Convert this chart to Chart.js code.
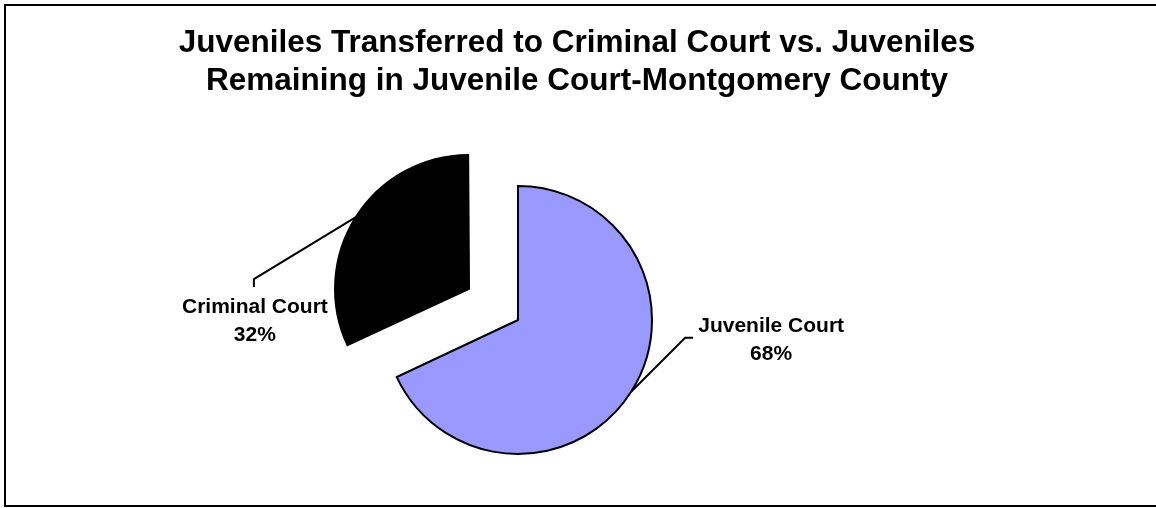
<!DOCTYPE html>
<html>
<head>
<meta charset="utf-8">
<script src="https://cdn.jsdelivr.net/npm/chart.js@4"></script>
<style>
  html, body { margin: 0; padding: 0; background: #fff; }
  #wrap { position: relative; width: 1156px; height: 508px; }
</style>
</head>
<body>
<div id="wrap"><canvas id="myChart"></canvas></div>
<script>
var titleLines = ["Juveniles Transferred to Criminal Court vs. Juveniles",
                  "Remaining in Juvenile Court-Montgomery County"];
var labels = ["Juvenile Court", "Criminal Court"];
var values = [68, 32];
var colors = ["#9999FF", "#000000"];
var explode = [0, 58];   // pixels the slice is pulled out

// where each label sits relative to the slice edge: elbow, short tick, text
var labelSpots = [
  { elbow: [54, -54], tick: [8, 0], text: [140, -60] },
  { elbow: [-102, 62], tick: [0, 8], text: [-101, 96] }
];

function radiusFix(arc) {
  return 1 - Math.sin(Math.min(Math.PI, arc.endAngle - arc.startAngle));
}

var decor = {
  id: 'decor',
  afterDatasetsUpdate(chart) {
    // chart.js grows an offset arc's radius a little; undo that so both slices match
    chart.getDatasetMeta(0).data.forEach((arc, i) => {
      arc.outerRadius -= explode[i] * radiusFix(arc);
    });
  },
  afterDraw(chart) {
    const ctx = chart.ctx;
    ctx.save();
    // frame
    ctx.strokeStyle = '#000';
    ctx.lineWidth = 2;
    ctx.strokeRect(5, 5, 1160, 501);

    // title
    ctx.fillStyle = '#000';
    ctx.font = 'bold 31.5px "Liberation Sans", Arial, sans-serif';
    ctx.textAlign = 'center';
    ctx.textBaseline = 'alphabetic';
    ctx.fillText(titleLines[0], 577, 52);
    ctx.fillText(titleLines[1], 577, 90);

    // data labels with leader lines
    const meta = chart.getDatasetMeta(0);
    const total = values.reduce((a, b) => a + b, 0);
    meta.data.forEach((arc, i) => {
      const p = arc.getProps(['x', 'y', 'startAngle', 'endAngle', 'outerRadius']);
      const mid = (p.startAngle + p.endAngle) / 2;
      const off = explode[i];
      const r = p.outerRadius + off * radiusFix(p);
      const ex = p.x + Math.cos(mid) * (r + off);
      const ey = p.y + Math.sin(mid) * (r + off);
      const s = labelSpots[i];
      const bx = ex + s.elbow[0], by = ey + s.elbow[1];
      ctx.lineWidth = 2;
      ctx.strokeStyle = '#000';
      ctx.beginPath();
      ctx.moveTo(ex, ey);
      ctx.lineTo(bx, by);
      ctx.lineTo(bx + s.tick[0], by + s.tick[1]);
      ctx.stroke();

      const tx = ex + s.text[0], ty = ey + s.text[1];
      ctx.font = 'bold 21px "Liberation Sans", Arial, sans-serif';
      ctx.textAlign = 'center';
      ctx.fillText(labels[i], tx, ty);
      ctx.fillText(Math.round(values[i] / total * 100) + '%', tx, ty + 28);
    });
    ctx.restore();
  }
};

new Chart(document.getElementById('myChart'), {
  type: 'pie',
  data: {
    labels: labels,
    datasets: [{
      data: values,
      backgroundColor: colors,
      borderColor: '#000',
      borderWidth: 2,
      borderJoinStyle: 'miter',
      // chart.js v4 moves an arc by offset / 4
      offset: explode.map(v => v * 4),
      clip: false
    }]
  },
  options: {
    responsive: true,
    maintainAspectRatio: false,
    animation: false,
    radius: 134,
    layout: { padding: { left: 318, right: 438, top: 170, bottom: 38 } },
    plugins: {
      legend: { display: false },
      tooltip: { enabled: false },
      title: { display: false }
    }
  },
  plugins: [decor]
});
</script>
</body>
</html>
